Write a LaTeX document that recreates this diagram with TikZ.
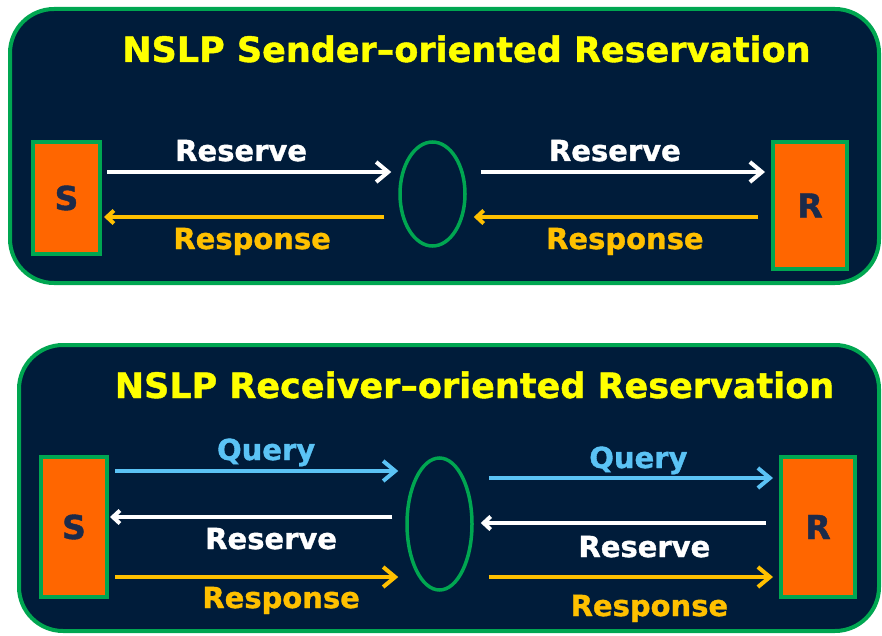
\documentclass[tikz,border=0pt]{standalone}
\usepackage{fontspec}
\setmainfont{DejaVu Sans}[BoldFeatures={FakeBold=1.2}]
\usetikzlibrary{arrows.meta, positioning, shapes.geometric}
\definecolor{navy}{HTML}{001C3A}
\definecolor{panelgreen}{HTML}{00A651}
\definecolor{boxorange}{HTML}{FF6600}
\definecolor{titleyellow}{HTML}{FFFF00}
\definecolor{respyellow}{HTML}{FFC000}
\definecolor{queryblue}{HTML}{5BC3F5}
\definecolor{letterblue}{HTML}{1C2B4A}

\begin{document}
\begin{tikzpicture}[
    x=1pt, y=-1pt,
    panel/.style={draw=panelgreen, line width=4pt, fill=navy, rounded corners=44pt},
    title/.style={text=titleyellow, font=\fontsize{35}{40}\selectfont\bfseries, anchor=base},
    endpoint/.style={draw=panelgreen, line width=4pt, fill=boxorange, inner sep=0pt,
        text=letterblue, font=\fontsize{33}{38}\selectfont\bfseries},
    router/.style={ellipse, draw=panelgreen, line width=3.5pt, inner sep=0pt},
    fwd/.style={line width=4pt, -{Straight Barb[length=12pt, width=20pt]}},
    back/.style={line width=4pt, -{Straight Barb[length=7pt, width=13pt]}},
    lblup/.style={anchor=base, yshift=11pt, font=\fontsize{29}{34}\selectfont\bfseries},
    lbldown/.style={anchor=base, yshift=-32pt, font=\fontsize{29}{34}\selectfont\bfseries}
]
\useasboundingbox (0,0) rectangle (882,636);

% Sender-oriented panel
\draw[panel] (10,9) rectangle (879,283);
\node[title] (t1) at (466.5,62) {NSLP Sender--oriented Reservation};
\node[endpoint, minimum width=67pt, minimum height=112pt] (S1) at (66.5,198) {S};
\node[router, minimum width=65pt, minimum height=104pt] (E1) at (432.5,194) {};
\node[endpoint, minimum width=74pt, minimum height=127pt] (R1) at (810,205.5) {R};

\draw[fwd, white, shorten <=5pt, shorten >=7pt] (S1.east |- 0,172) -- node[lblup, xshift=-9pt] {Reserve} (E1.west |- 0,172);
\draw[fwd, white, shorten <=14pt, shorten >=6pt] (E1.east |- 0,172) -- node[lblup, xshift=-4pt] {Reserve} (R1.west |- 0,172);
\draw[back, respyellow, shorten <=14pt, shorten >=2pt] (E1.west |- 0,217) -- node[lbldown, xshift=2pt] {Response} (S1.east |- 0,217);
\draw[back, respyellow, shorten <=13pt, shorten >=7pt] (R1.west |- 0,217) -- node[lbldown, xshift=6pt] {Response} (E1.east |- 0,217);

% Receiver-oriented panel
\draw[panel] (19,345) rectangle (879,631);
\node[title] (t2) at (474.5,398) {NSLP Receiver--oriented Reservation};
\node[endpoint, minimum width=66pt, minimum height=140pt] (S2) at (74,527) {S};
\node[router, minimum width=65pt, minimum height=132pt] (E2) at (439.5,524) {};
\node[endpoint, minimum width=74pt, minimum height=140pt] (R2) at (818,527) {R};

\draw[fwd, queryblue, shorten <=6pt, shorten >=7pt] (S2.east |- 0,471) -- node[lblup, xshift=9pt] {Query} (E2.west |- 0,471);
\draw[fwd, queryblue, shorten <=15pt, shorten >=6pt] (E2.east |- 0,478) -- node[lblup, xshift=12pt, yshift=-1pt] {Query} (R2.west |- 0,478);
\draw[back, white, shorten <=13pt, shorten >=1pt] (E2.west |- 0,517) -- node[lbldown, xshift=14pt] {Reserve} (S2.east |- 0,517);
\draw[back, white, shorten <=13pt, shorten >=7pt] (R2.west |- 0,523) -- node[lbldown, xshift=18pt, yshift=-2pt] {Reserve} (E2.east |- 0,523);
\draw[fwd, respyellow, shorten <=6pt, shorten >=7pt] (S2.east |- 0,577) -- node[lbldown, xshift=24pt, yshift=1pt] {Response} (E2.west |- 0,577);
\draw[fwd, respyellow, shorten <=15pt, shorten >=6pt] (E2.east |- 0,577) -- node[lbldown, xshift=23pt, yshift=-7pt] {Response} (R2.west |- 0,577);

\end{tikzpicture}
\end{document}
